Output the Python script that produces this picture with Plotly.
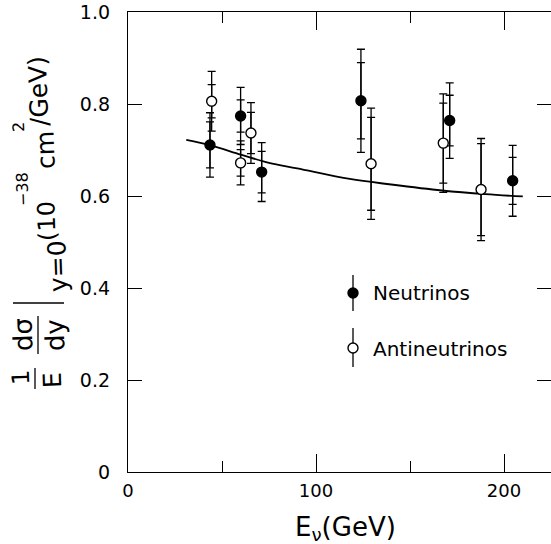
import plotly.graph_objects as go

# ---------------- data ----------------
E_nu = [43.6, 59.9, 71.1, 123.9, 171.1, 204.6]
s_nu = [0.711, 0.774, 0.652, 0.807, 0.764, 0.633]
tot_nu = [0.070, 0.062, 0.064, 0.112, 0.082, 0.077]
stat_nu = [0.050, 0.035, 0.045, 0.083, 0.055, 0.051]

E_anu = [44.5, 59.9, 65.4, 129.3, 167.7, 187.8]
s_anu = [0.806, 0.672, 0.737, 0.670, 0.715, 0.614]
tot_anu = [0.065, 0.048, 0.066, 0.121, 0.107, 0.111]
stat_anu = [0.036, 0.029, 0.045, 0.101, 0.087, 0.100]

E_curve = [31, 44, 60, 75, 90, 118, 140, 167, 190, 210]
s_curve = [0.722, 0.710, 0.690, 0.672, 0.660, 0.637, 0.625, 0.612, 0.604, 0.599]

x_ticks = [0, 100, 200]
x_ticktext = ["0", "100", "200"]
y_ticks = [0, 0.2, 0.4, 0.6, 0.8, 1.0]
y_ticktext = ["0", "0.2", "0.4", "0.6", "0.8", "1.0"]

FONT = "DejaVu Sans"
W, H = 551, 544
ML, MR, MT, MB = 128, 0, 12, 72
PW, PH = W - ML - MR, H - MT - MB


def px(x):
    return (x - ML) / PW


def py(y):
    return (H - MB - y) / PH


fig = go.Figure()

# theory curve
fig.add_trace(go.Scatter(x=E_curve, y=s_curve, mode="lines",
                         line=dict(color="black", width=1.8, shape="spline"),
                         showlegend=False, hoverinfo="skip"))


def add_series(E, s, tot, stat, name, filled):
    fig.add_trace(go.Scatter(
        x=E, y=s, mode="markers", marker=dict(size=1, color="rgba(0,0,0,0)"),
        error_y=dict(type="data", array=tot, width=4, thickness=1.3, color="black"),
        showlegend=False, hoverinfo="skip"))
    fig.add_trace(go.Scatter(
        x=E, y=s, mode="markers", name=name,
        marker=dict(size=10, symbol="circle",
                    color="black" if filled else "white",
                    line=dict(color="black", width=1.4)),
        error_y=dict(type="data", array=stat, width=4, thickness=1.3, color="black"),
        showlegend=False))


add_series(E_nu, s_nu, tot_nu, stat_nu, "Neutrinos", True)
add_series(E_anu, s_anu, tot_anu, stat_anu, "Antineutrinos", False)

# secondary y axis only to carry the inward ticks on the right edge
fig.add_trace(go.Scatter(x=[None], y=[None], yaxis="y2", showlegend=False))

fig.update_layout(
    width=W, height=H,
    margin=dict(l=ML, r=MR, t=MT, b=MB, pad=0),
    paper_bgcolor="white", plot_bgcolor="white",
    font=dict(family=FONT, color="black", size=18),
    showlegend=False,
    xaxis=dict(range=[0, 225], showgrid=False, zeroline=False,
               showline=True, linecolor="black", linewidth=1.3,
               mirror="ticks", ticks="inside", ticklen=18, tickwidth=1.3,
               tickcolor="black", tickvals=x_ticks, ticktext=x_ticktext,
               ticklabelstandoff=2,
               minor=dict(tickvals=[50, 150], ticks="inside", ticklen=11,
                          tickwidth=1.3, tickcolor="black"),
               tickfont=dict(size=18, family=FONT)),
    yaxis=dict(range=[0, 1.0], showgrid=False, zeroline=False,
               showline=True, linecolor="black", linewidth=1.3,
               ticks="inside", ticklen=14, tickwidth=1.3, tickcolor="black",
               tickvals=y_ticks, ticktext=y_ticktext, ticklabelstandoff=13,
               ticklabeloverflow="allow",
               tickfont=dict(size=19, family=FONT)),
    yaxis2=dict(range=[0, 1.0], overlaying="y", side="right", showgrid=False,
                zeroline=False, showline=False, ticks="inside", ticklen=14,
                tickwidth=1.3, tickcolor="black", tickvals=y_ticks[1:5],
                showticklabels=False),
)

ann = []
shapes = []


def text(x, y, t, size, angle=0, xanchor="center"):
    ann.append(dict(x=px(x), y=py(y), xref="paper", yref="paper", text=t,
                    showarrow=False, textangle=angle, xanchor=xanchor,
                    yanchor="middle", borderpad=0,
                    font=dict(family=FONT, size=size, color="black")))


def line(x0, y0, x1, y1, w=1.3):
    shapes.append(dict(type="line", xref="paper", yref="paper",
                       x0=px(x0), y0=py(y0), x1=px(x1), y1=py(y1),
                       line=dict(color="black", width=w)))


# x axis title
text(345, 528, "E<sub>ν</sub>(GeV)", 26)

# y axis title, built from pieces (slightly tilted as in the scan)
A = -92
text(21, 378, "1", 24, A)
line(35, 368, 35, 389)
text(52, 380, "E", 25, A)
text(23, 335, "dσ", 26, A)
line(38, 316, 38, 354)
text(55, 335, "dy", 26, A)
line(13, 303, 64, 303, 1.6)
text(57, 266, "y=0", 25, A)
text(47, 221, "(10", 24, A)
text(22, 189, "−38", 16, A)
text(45, 150, "cm", 25, A)
text(18, 127, "2", 16, A)
text(38, 91, "/GeV)", 25, A)

# legend
line(353, 275, 353, 311)
line(353, 328, 353, 367)
shapes.append(dict(type="circle", xref="paper", yref="paper", xsizemode="pixel",
                   ysizemode="pixel", xanchor=px(353), yanchor=py(293),
                   x0=-5, x1=5, y0=-5, y1=5, fillcolor="black",
                   line=dict(color="black", width=1.4)))
shapes.append(dict(type="circle", xref="paper", yref="paper", xsizemode="pixel",
                   ysizemode="pixel", xanchor=px(353), yanchor=py(348),
                   x0=-5, x1=5, y0=-5, y1=5, fillcolor="white",
                   line=dict(color="black", width=1.4)))
text(372, 293, "Neutrinos", 20, 0, "left")
text(372, 349, "Antineutrinos", 20, 0, "left")

fig.update_layout(annotations=ann, shapes=shapes)
fig.write_html("out.html", config={"displayModeBar": False},
               post_script="document.body.style.margin='0px';"
                           "document.body.style.overflow='hidden';")
